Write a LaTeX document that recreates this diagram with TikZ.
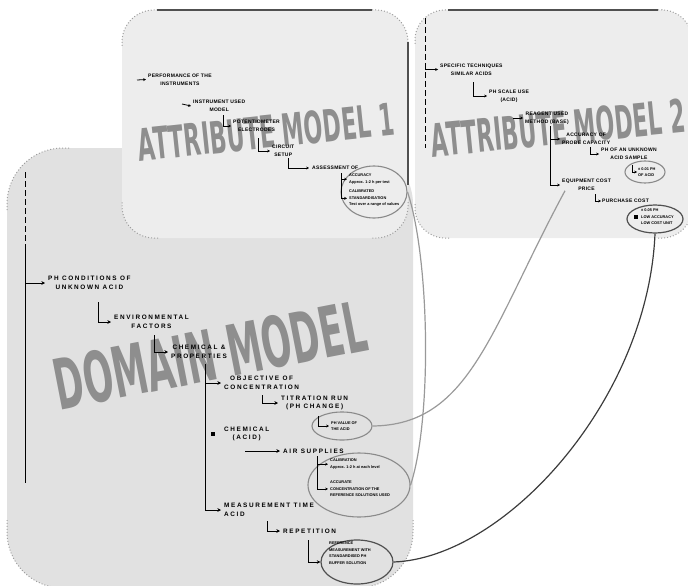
\documentclass[tikz,border=0pt]{standalone}
\usepackage{fontspec}
\setmainfont{Liberation Sans}
\newfontfamily\tfd[LetterSpace=25]{Liberation Sans}
\newfontfamily\tfa[LetterSpace=6]{Liberation Sans}
\newfontfamily\bigf{DejaVu Sans}
\usetikzlibrary{arrows.meta,shapes.geometric}
\definecolor{dompanel}{HTML}{E1E1E1}
\definecolor{attpanel}{HTML}{EDEDED}
\definecolor{bigtxt}{HTML}{8E8E8E}
\definecolor{edgedark}{HTML}{505050}
\definecolor{ellgray}{HTML}{8A8A8A}
\definecolor{linkgray}{HTML}{999999}
\definecolor{linkdark}{HTML}{3C3C3C}
\tikzset{
  dom/.style={font=\tfd\fontsize{6.4}{8.8}\selectfont\bfseries, align=center, inner sep=0pt, anchor=west},
  att/.style={font=\tfa\fontsize{5}{7.6}\selectfont\bfseries, align=center, inner sep=0pt, anchor=west},
  tiny/.style={font=\fontsize{3.9}{6.4}\selectfont\bfseries, align=left, inner sep=0pt, anchor=north west},
  tree/.style={line width=1pt, black},
  arr/.style={tree, -{Stealth[length=3.6pt,width=3.6pt]}},
  arrS/.style={line width=0.8pt, black, -{Stealth[length=2.8pt,width=2.8pt]}},
  big/.style={text=bigtxt, inner sep=0pt, font=\bigf\bfseries},
  ellg/.style={ellipse, draw=ellgray, line width=1.1pt, inner sep=0pt},
  elld/.style={ellipse, draw=edgedark, line width=1.2pt, inner sep=0pt},
  corner/.style={draw=gray!75, dotted, line width=1pt},
  topedge/.style={draw=edgedark, line width=1.2pt},
  link/.style={draw=linkgray, line width=1.2pt},
  linkd/.style={draw=linkdark, line width=1.2pt},
  dot/.style={fill=black, inner sep=0pt, minimum size=3.2pt},
}
\begin{document}
\begin{tikzpicture}[x=1pt,y=-1pt]
\useasboundingbox (0,0) rectangle (688,586);
% ---------- panels
\fill[dompanel, rounded corners=56pt] (7,148) rectangle (413,588);
\fill[attpanel, rounded corners=32pt] (122,10) rectangle (408,238);
\fill[attpanel, rounded corners=30pt] (415,10) rectangle (692,238);
\draw[corner, rounded corners=56pt] (7,210) -- (7,148) -- (69,148);
\draw[corner, rounded corners=56pt] (413,520) -- (413,588) -- (345,588);
\draw[corner, rounded corners=56pt] (75,588) -- (7,588) -- (7,520);
\draw[corner, rounded corners=32pt] (122,46) -- (122,10) -- (158,10);
\draw[corner, rounded corners=32pt] (372,10) -- (408,10) -- (408,46);
\draw[corner, rounded corners=32pt] (408,202) -- (408,238) -- (372,238);
\draw[corner, rounded corners=32pt] (158,238) -- (122,238) -- (122,202);
\draw[corner, rounded corners=30pt] (415,44) -- (415,10) -- (449,10);
\draw[corner, rounded corners=30pt] (658,10) -- (692,10) -- (692,44);
\draw[corner, rounded corners=30pt] (692,204) -- (692,238) -- (658,238);
\draw[corner, rounded corners=30pt] (449,238) -- (415,238) -- (415,204);
\draw[topedge] (157,10) -- (372,10);
\draw[topedge] (408,42) -- (408,185);
\draw[topedge] (448,10) -- (658,10);
% ---------- big labels
\node[big, rotate=6] (t1) at (266,132) {\resizebox{257pt}{33pt}{ATTRIBUTE MODEL 1}};
\node[big, rotate=5.6] (t2) at (558,128) {\resizebox{255pt}{34pt}{ATTRIBUTE MODEL 2}};
\node[big, rotate=11] (t3) at (210,355) {\resizebox{316pt}{52pt}{DOMAIN MODEL}};
% ---------- domain model tree
\coordinate (dtop) at (25,172);
\coordinate (dmid) at (25,250);
\coordinate (dbot) at (25,483);
\draw[tree, dash pattern=on 6pt off 3pt] (dtop) -- (dmid);
\draw[tree] (dmid) -- (dbot);
\node[dom] (d1) at (48,283) {PH CONDITIONS OF\\UNKNOWN ACID};
\draw[arr] (dtop |- d1.west) -- ([xshift=-3pt]d1.west);
\node[dom] (d2) at (114,322) {ENVIRONMENTAL\\FACTORS};
\coordinate (e2) at (98,302);
\draw[arr] (e2) |- ([xshift=-3pt]d2.west);
\node[dom] (d3) at (171,352) {CHEMICAL \&\\PROPERTIES};
\coordinate (e3) at (154,335);
\draw[arr] (e3) |- ([xshift=-3pt]d3.west);
\coordinate (t2top) at (205,364);
\node[dom] (d4) at (224,383) {OBJECTIVE OF\\CONCENTRATION};
\node[dom] (d5) at (281,403) {TITRATION RUN\\(PH CHANGE)};
\coordinate (e5) at (262,395);
\draw[arr] (e5) |- ([xshift=-3pt]d5.west);
\node[dot] (d6dot) at (213,434) {};
\node[dom] (d6) at (224,434) {CHEMICAL\\(ACID)};
\coordinate (j7) at (245,451);
\node[dom] (d7) at (283,451) {AIR SUPPLIES};
\draw[arr] (j7) -- ([xshift=-3pt]d7.west);
\node[dom, align=left] (d8) at (224,510) {MEASUREMENT TIME\\ACID};
\draw[arr] (t2top) |- ([xshift=-3pt]d8.west);
\draw[arr] (t2top |- d4.west) -- ([xshift=-3pt]d4.west);
\node[dom] (d9) at (283,531) {REPETITION};
\coordinate (e9) at (267,521);
\draw[arr] (e9) |- ([xshift=-3pt]d9.west);
% domain ellipses
\node[ellg, minimum width=60pt, minimum height=28pt] (de1) at (342,426) {};
\node[tiny, anchor=west] (de1t) at (331,426) {PH VALUE OF\\THE ACID};
\coordinate (e11) at (318,416);
\draw[arrS] (e11) |- ([xshift=-2pt]de1t.west);
\node[ellg, minimum width=102pt, minimum height=64pt] (de2) at (359,485) {};
\node[tiny] (de2a) at (330,459) {CALIBRATION\\Approx. 1-2 h at each level};
\node[tiny] (de2b) at (330,481) {ACCURATE\\CONCENTRATION OF THE\\REFERENCE SOLUTIONS USED};
\coordinate (e7) at (317,456);
\draw[arrS] (e7) |- ([xshift=-2pt]de2b.west);
\draw[arrS] (e7 |- de2a.west) -- ([xshift=-2pt]de2a.west);
\node[elld, minimum width=72pt, minimum height=44pt] (de3) at (357,562) {};
\node[tiny] (de3t) at (329,542) {REFERENCE\\MEASUREMENT WITH\\STANDARDISED PH\\BUFFER SOLUTION};
\coordinate (e10) at (308,540);
\draw[arr] (e10) |- (de3.west);
% ---------- attribute model 1 tree
\coordinate (j0) at (137,80);
\node[att] (a1) at (148,79.5) {PERFORMANCE OF THE\\INSTRUMENTS};
\draw[arrS] (j0) -- ([xshift=-2pt]a1.west);
\coordinate (ja2) at (182,104);
\node[att] (a2) at (193,106) {INSTRUMENT USED\\MODEL};
\draw[arrS] (ja2) -- ([xshift=-2pt]a2.west);
\coordinate (ea3) at (223,115);
\node[att] (a3) at (233,126) {POTENTIOMETER\\ELECTRODES};
\draw[arrS] (ea3) |- ([xshift=-2pt]a3.west);
\coordinate (ea4) at (258,138);
\node[att] (a4) at (272,151) {CIRCUIT\\SETUP};
\draw[arrS] (ea4) |- ([xshift=-2pt]a4.west);
\coordinate (ea5) at (288,158);
\node[att] (a5) at (312,168) {ASSESSMENT OF};
\draw[arrS] (ea5) |- ([xshift=-3pt]a5.west);
\node[ellg, minimum width=66pt, minimum height=52pt] (ae1) at (374,192) {};
\node[tiny] (ae1a) at (349,174) {ACCURACY\\Approx. 1-2 h per test};
\node[tiny] (ae1b) at (349,190) {CALIBRATED\\STANDARDISATION\\Test over a range of values};
\coordinate (ea6) at (341,173);
\draw[arrS] (ea6) |- ([xshift=-2pt]ae1b.west);
\draw[arrS] (ea6 |- ae1a.west) -- ([xshift=-2pt]ae1a.west);
% ---------- attribute model 2 tree
\coordinate (btop) at (425,18);
\coordinate (bbot) at (425,148);
\draw[tree, dash pattern=on 6pt off 3pt] (btop) -- (bbot);
\node[att] (b1) at (440,69.5) {SPECIFIC TECHNIQUES\\SIMILAR ACIDS};
\draw[arrS] (btop |- b1.west) -- ([xshift=-2pt]b1.west);
\coordinate (eb2) at (473,82);
\node[att] (b2) at (489,96) {PH SCALE USE\\(ACID)};
\draw[arrS] (eb2) |- ([xshift=-2pt]b2.west);
\coordinate (jb3) at (513,118);
\node[att] (b3) at (525,118) {REAGENT USED\\METHOD (BASE)};
\draw[arrS] (jb3) -- ([xshift=-2pt]b3.west);
\coordinate (tb) at (550,126);
\node[att] (b4) at (562,139) {ACCURACY OF\\PROBE CAPACITY};
\draw[arrS] (tb |- b4.west) -- ([xshift=-2pt]b4.west);
\coordinate (eb5) at (590,147);
\node[att] (b5) at (601,154) {PH OF AN UNKNOWN\\ACID SAMPLE};
\draw[arrS] (eb5) |- ([xshift=-2pt]b5.west);
\node[ellg, minimum width=40pt, minimum height=22pt] (be1) at (645,172) {};
\node[tiny, anchor=west] (be1t) at (638,172) {± 0.01 PH\\OF ACID};
\coordinate (eb6) at (632,165);
\draw[arrS] (eb6) |- ([xshift=-1pt]be1t.west);
\node[att] (b6) at (562,185) {EQUIPMENT COST\\PRICE};
\draw[arrS] (tb) |- ([xshift=-2pt]b6.west);
\coordinate (eb7) at (595,194);
\node[att] (b7) at (602,201) {PURCHASE COST};
\draw[arrS] (eb7) |- ([xshift=-1pt]b7.west);
\node[elld, minimum width=56pt, minimum height=28pt] (be2) at (655,219) {};
\node[dot] (be2dot) at (636,217) {};
\node[tiny] (be2t) at (641,209) {± 0.05 PH\\LOW ACCURACY\\LOW COST UNIT};
% ---------- links between models
\draw[link] (ae1.east) .. controls (430,260) and (432,420) .. (de2.east);
\draw[link] ([xshift=3pt]b6.south west) .. controls (490,330) and (470,425) .. (de1.east);
\draw[linkd] (be2.south) .. controls (648,400) and (505,558) .. (de3.east);
\end{tikzpicture}
\end{document}
